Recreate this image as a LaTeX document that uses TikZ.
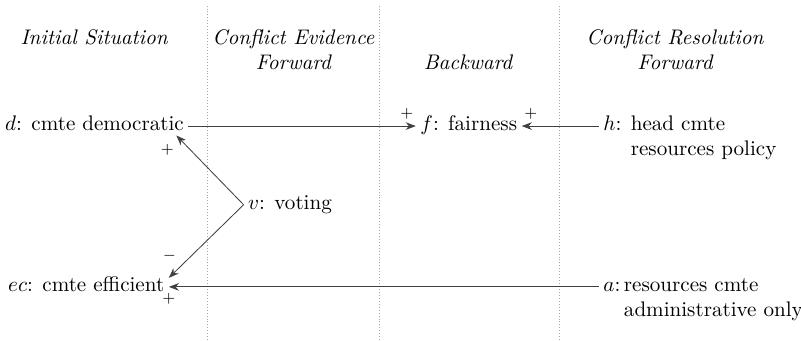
\documentclass[tikz,border=0pt]{standalone}
\usepackage{amsmath,amssymb}
\usepackage{tikz}
\usetikzlibrary{arrows.meta,positioning,calc}

\begin{document}
\begin{tikzpicture}[auto, >=Stealth,
  head/.style={font=\itshape, align=center},
  factor/.style={anchor=base west, inner sep=2pt},
  sign/.style={font=\scriptsize, inner sep=1pt},
  colsep/.style={densely dotted, gray!70},
  link/.style={->, draw=black!75}]

  \useasboundingbox (0,0) rectangle (13.35,5.667);

  % Column separators
  \draw[colsep] (3.45,0) -- (3.45,5.6);
  \draw[colsep] (6.33,0) -- (6.33,5.6);
  \draw[colsep] (9.33,0) -- (9.33,5.6);

  % Column headings
  \node[head] (init) at (1.57,5.05) {Initial Situation};
  \node[head] (evid) at (4.89,4.84) {Conflict Evidence\\Forward};
  \node[head] (back) at (7.8,4.63) {Backward};
  \node[head] (reso) at (11.25,4.84) {Conflict Resolution\\Forward};

  % Define coordinates for nodes
  \node[factor] (d) at (0.01,3.49) {$d$: cmte democratic};
  \node[factor] (f) at (6.93,3.49) {$f$: fairness};
  \node[factor] (h) at (9.98,3.49) {$h$: \begin{tabular}[t]{@{}l@{}}head cmte\\resources policy\end{tabular}};
  \node[factor] (v) at (4.06,2.175) {$v$: voting};
  \node[factor] (ec) at (0.06,0.81) {$ec$: cmte efficient};
  \node[factor] (a) at (9.98,0.81) {$a$:\,\begin{tabular}[t]{@{}l@{}}resources cmte\\administrative only\end{tabular}};

  % Draw arrows between nodes
  \draw[link] (d.mid east) -- (f.mid west) node[sign, at end, above left=2pt and 0pt] {$+$};
  \draw[link] (h.mid west) -- (f.mid east) node[sign, at end, above right=2pt and 0pt] {$+$};
  \draw[link] (v.west) -- ([xshift=-2mm]d.south east) node[sign, at end, below left=3pt and 0pt] {$+$};
  \draw[link] (v.west) -- ([yshift=1.5mm]ec.mid east) node[sign, pos=0.7, left=6pt] {$-$};
  \draw[link] (a.mid west) -- (ec.mid east) node[sign, at end, below=2pt] {$+$};
\end{tikzpicture}
\end{document}
